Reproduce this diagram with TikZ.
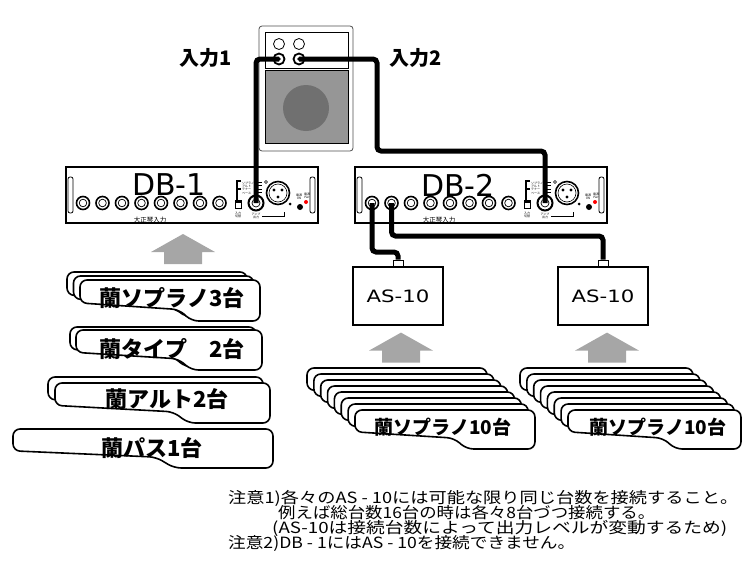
\documentclass[tikz,border=0pt]{standalone}
\usepackage{fontspec}
\newfontfamily\jpfont{Noto Sans CJK JP}
\newfontfamily\latinfont{DejaVu Sans}
\usetikzlibrary{arrows.meta,calc,positioning}
\definecolor{arrowgray}{RGB}{166,166,166}
\definecolor{grillegray}{RGB}{150,150,150}
\definecolor{conegray}{RGB}{112,112,112}

\begin{document}
\begin{tikzpicture}[x=1pt, y=-1pt,
  cable/.style={line width=5pt, rounded corners=4pt},
  tagline/.style={line width=1.6pt, rounded corners=7pt, fill=white},
  panel/.style={draw, line width=1.2pt, minimum width=252pt, minimum height=56pt, inner sep=0pt},
  asbox/.style={draw, line width=1.2pt, minimum width=90pt, minimum height=58pt, inner sep=0pt,
    font=\latinfont\fontsize{17}{17}\selectfont},
  plug/.style={draw, line width=0.8pt, fill=white, minimum width=10pt, minimum height=6pt, inner sep=0pt},
  taglabel/.style={font=\jpfont\bfseries\fontsize{22}{22}\selectfont, inner sep=0pt},
  biglabel/.style={font=\latinfont\fontsize{30}{30}\selectfont, inner sep=0pt},
  note/.style={anchor=west, inner sep=0pt, font=\jpfont\fontsize{15.5}{15.5}\selectfont},
  minitext/.style={font=\jpfont\fontsize{3}{3.4}\selectfont, align=center, inner sep=0pt},
  pics/koto/.style args={#1/#2}{code={
    \draw[tagline] (0,0) -- (#1,0) -- (#1,#2) -- ({0.62*#1},#2)
      -- ({0.55*#1},{0.72*#2}) -- (0,{0.56*#2}) -- cycle;
  }},
  pics/uparrow/.style={code={
    \fill[arrowgray] (0,0) -- (32,18) -- (19,18) -- (19,30) -- (-19,30) -- (-19,18) -- (-32,18) -- cycle;
  }}
]
  \useasboundingbox (0,0) rectangle (744,573);

  % amplifier
  \draw[line width=0.8pt, draw=black!70, rounded corners=3pt] (259,26) rectangle (353,151);
  \draw[line width=0.8pt] (265,32) rectangle (348,68);
  \draw[line width=0.8pt, fill=grillegray] (265,70) rectangle (348,143);
  \fill[conegray] (306,108) circle (23pt);
  \foreach \k/\kx in {1/279, 2/299} {
    \draw[line width=0.8pt, fill=white] (\kx,44) circle (5.5pt);
    \draw[line width=1.8pt, fill=white] (\kx,59) circle (5.5pt);
    \fill (\kx,59) circle (1.8pt);
    \coordinate (ampin\k) at (\kx,59);
  }
  \node[taglabel, font=\jpfont\bfseries\fontsize{20}{20}\selectfont] (in1) at (206,58) {入力1};
  \node[taglabel, font=\jpfont\bfseries\fontsize{20}{20}\selectfont] (in2) at (416,58) {入力2};

  % DB-1 and DB-2 panels
  \foreach \n/\sx in {1/0, 2/289} {
    \begin{scope}[shift={(\sx,0)}]
      \node[panel] (db\n) at (192,195) {};
      \draw[line width=0.8pt, rounded corners=2pt] (68,177) rectangle (73,213);
      \draw[line width=0.8pt, rounded corners=2pt] (310,177) rectangle (315,213);
      \node[biglabel] (dbname\n) at (169,185) {DB-\n};
      \foreach \j in {0,...,7} {
        \draw[line width=1.6pt] ({83+19.5*\j},203) circle (6.5pt);
        \draw[line width=0.7pt] ({83+19.5*\j},203) circle (3.8pt);
        \coordinate (db\n-in\j) at ({83+19.5*\j},203);
      }
      \node[minitext, font=\jpfont\fontsize{6.5}{7}\selectfont] (koto\n) at (150,220) {大正琴入力};
      % selector
      \draw[line width=1.2pt] (241,181) -- (237,181) -- (237,200);
      \draw[line width=1.2pt] (237,189) -- (241,189);
      \draw[line width=1pt, fill=white] (235,200) rectangle (241,208);
      \fill (235,200) rectangle (241,203);
      \node[minitext, anchor=west, align=left] (sel\n) at (242,188) {ソプラノ\\アルト\\テナー\\ベース};
      \foreach \t in {182,185.5,189,192.5} \draw[line width=0.4pt] (257,\t) -- (262,\t);
      \node[minitext] (selname\n) at (238,215) {入力\\切替};
      % amp output
      \draw[line width=2pt] (256,203) circle (7.5pt);
      \draw[line width=0.7pt] (256,203) circle (4pt);
      \coordinate (db\n-out) at (256,203);
      \node[minitext] (outname\n) at (256,216) {アンプ\\出力};
      % XLR
      \draw[line width=1.6pt] (278,193) circle (11.5pt);
      \draw[line width=0.6pt] (278,193) circle (9pt);
      \foreach \p in {(274,190),(282,190),(278,197)} \fill \p circle (1.6pt);
      \draw[line width=0.6pt] (266,182) circle (1.5pt);
      \fill (290,204) circle (1.5pt);
      \draw[line width=1pt] (262,216) -- (284,216) -- (284,212);
      % power
      \node[minitext] (pwr\n) at (299,197) {電源\\ON};
      \node[minitext] (led\n) at (307,196) {電源\\Pwr};
      \fill (300,207) circle (3pt);
      \fill[red] (306,202) circle (2pt);
    \end{scope}
  }

  % AS-10 boxes
  \node[asbox] (as1) at (398,296) {\scalebox{1.25}[1]{AS-10}};
  \node[asbox] (as2) at (603,296) {\scalebox{1.25}[1]{AS-10}};
  \node[plug, above=0pt of as1] (as1plug) {};
  \node[plug, above=0pt of as2] (as2plug) {};

  % cables
  \coordinate (bend2) at (377,151);
  \coordinate (bend3) at (398,252);
  \coordinate (bend4) at (603,236);
  \draw[cable] (ampin1) -| (db1-out);
  \draw[cable] (ampin2) -| (bend2) -| (db2-out);
  \draw[cable] (db2-in0) |- (bend3) -- (as1plug.north);
  \draw[cable] (db2-in1) |- (bend4) -- (as2plug.north);

  % gray arrows
  \pic at (183,234) {uparrow};
  \pic at ($(as1.south)+(3,7)$) {uparrow};
  \pic at ($(as2.south)+(4,7)$) {uparrow};

  % koto tags, left
  \foreach \i in {0,1,2} \pic at ({67+6.5*\i},{272+4*\i}) {koto=180/41};
  \node[taglabel] (sop3) at (172,298) {蘭ソプラノ3台};
  \foreach \i in {0,1} \pic at ({70+6*\i},{327+3*\i}) {koto=186/40};
  \node[taglabel] (typ2) at (172,349) {蘭タイプ　2台};
  \foreach \i in {0,1} \pic at ({48+7*\i},{377+6*\i}) {koto=215/40};
  \node[taglabel] (alt2) at (167,399) {蘭アルト2台};
  \pic at (13,429) {koto=260/39};
  \node[taglabel] (bas1) at (152,448) {蘭パス1台};

  % koto tags, under AS-10
  \foreach \i in {0,...,7} \pic at ({307+6.85*\i},{368+6*\i}) {koto=180/39};
  \node[taglabel, font=\jpfont\bfseries\fontsize{19}{19}\selectfont] (sop10a) at (443,427) {蘭ソプラノ10台};
  \foreach \i in {0,...,7} \pic at ({520+6.85*\i},{368+6*\i}) {koto=173/39};
  \node[taglabel, font=\jpfont\bfseries\fontsize{19}{19}\selectfont] (sop10b) at (658,427) {蘭ソプラノ10台};

  % notes
  \node[note] (note1) at (228,498) {\resizebox{510pt}{\height}{注意1)各々のAS - 10には可能な限り同じ台数を接続すること。}};
  \node[note] (note2) at (278,513) {\resizebox{377pt}{\height}{例えば総台数16台の時は各々8台づつ接続する。}};
  \node[note] (note3) at (272,528) {\resizebox{455pt}{\height}{(AS-10は接続台数によって出力レベルが変動するため)}};
  \node[note] (note4) at (228,543) {\resizebox{347pt}{\height}{注意2)DB - 1にはAS - 10を接続できません。}};
\end{tikzpicture}
\end{document}
